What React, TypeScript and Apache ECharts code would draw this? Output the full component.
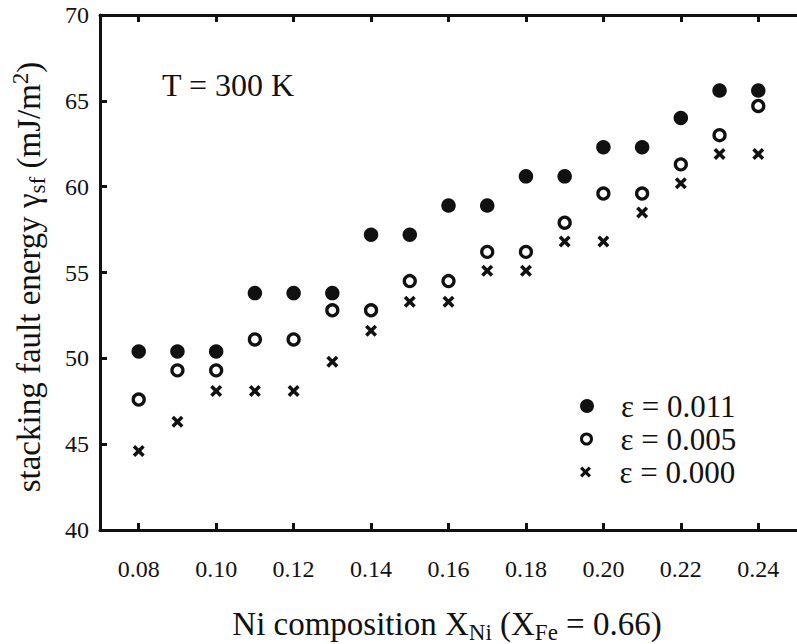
import React, { useEffect, useRef } from "react";
import * as echarts from "echarts";

const xValues = [0.08, 0.09, 0.1, 0.11, 0.12, 0.13, 0.14, 0.15, 0.16, 0.17, 0.18, 0.19, 0.2, 0.21, 0.22, 0.23, 0.24];
const eps011 = [50.4, 50.4, 50.4, 53.8, 53.8, 53.8, 57.2, 57.2, 58.9, 58.9, 60.6, 60.6, 62.3, 62.3, 64.0, 65.6, 65.6];
const eps005 = [47.6, 49.3, 49.3, 51.1, 51.1, 52.8, 52.8, 54.5, 54.5, 56.2, 56.2, 57.9, 59.6, 59.6, 61.3, 63.0, 64.7];
const eps000 = [44.6, 46.3, 48.1, 48.1, 48.1, 49.8, 51.6, 53.3, 53.3, 55.1, 55.1, 56.8, 56.8, 58.5, 60.2, 61.9, 61.9];
const seriesNames = ["ε = 0.011", "ε = 0.005", "ε = 0.000"];
const xTickValues = [0.08, 0.1, 0.12, 0.14, 0.16, 0.18, 0.2, 0.22, 0.24];

const FONT = "Liberation Serif";
const INK = "#111111";
const CROSS = "path://M0,2.5 L2.5,0 L6,3.5 L9.5,0 L12,2.5 L8.5,6 L12,9.5 L9.5,12 L6,8.5 L2.5,12 L0,9.5 L3.5,6 Z";

const pairs = (ys: number[]) => xValues.map((x, i) => [x, ys[i]]);

export default function App() {
  const ref = useRef<HTMLDivElement>(null);
  useEffect(() => {
    if (!ref.current) return;
    const chart = echarts.init(ref.current, null, { renderer: "svg" });
    const axisLine = { show: true, lineStyle: { color: INK, width: 3 } };
    const tick = { show: true, inside: true, length: 7, lineStyle: { color: INK, width: 3 } };
    const legendBase = {
      left: 580,
      padding: 0,
      itemWidth: 58,
      selectedMode: false,
      textStyle: { fontSize: 31, fontFamily: FONT, color: INK, lineHeight: 32 },
    };
    chart.setOption({
      animation: false,
      backgroundColor: "#ffffff",
      textStyle: { fontFamily: FONT },
      grid: { left: 100, top: 15, right: -12, bottom: 114 },
      xAxis: [
        {
          type: "value",
          min: 0.07,
          max: 0.25,
          position: "bottom",
          splitLine: { show: false },
          axisLine,
          axisTick: { ...tick, customValues: xTickValues },
          axisLabel: {
            customValues: xTickValues,
            formatter: (v: number) => v.toFixed(2),
            fontSize: 24,
            fontFamily: FONT,
            color: INK,
            margin: 27,
          },
        },
        {
          type: "value",
          min: 0.07,
          max: 0.25,
          position: "top",
          splitLine: { show: false },
          axisLine,
          axisTick: { ...tick, customValues: xTickValues },
          axisLabel: { show: false },
        },
      ],
      yAxis: {
        type: "value",
        min: 40,
        max: 70,
        interval: 5,
        splitLine: { show: false },
        axisLine,
        axisTick: tick,
        axisLabel: { fontSize: 24, fontFamily: FONT, color: INK, margin: 11 },
      },
      legend: [
        { ...legendBase, top: 390, itemHeight: 14, data: [{ name: seriesNames[0], icon: "circle" }] },
        {
          ...legendBase,
          top: 423,
          itemHeight: 10,
          data: [{ name: seriesNames[1], icon: "circle", itemStyle: { color: "#ffffff", borderColor: INK, borderWidth: 3 } }],
        },
        { ...legendBase, top: 456, itemHeight: 11, data: [{ name: seriesNames[2], icon: CROSS }] },
      ],
      series: [
        {
          name: seriesNames[0],
          type: "scatter",
          symbol: "circle",
          symbolSize: 14.5,
          itemStyle: { color: INK, opacity: 1 },
          data: pairs(eps011),
        },
        {
          name: seriesNames[1],
          type: "scatter",
          symbol: "circle",
          symbolSize: 11,
          itemStyle: { color: "#ffffff", borderColor: INK, borderWidth: 3.3, opacity: 1 },
          data: pairs(eps005),
        },
        {
          name: seriesNames[2],
          type: "scatter",
          symbol: CROSS,
          symbolSize: 12,
          itemStyle: { color: INK, opacity: 1 },
          data: pairs(eps000),
        },
      ],
      graphic: [
        {
          type: "text",
          x: 162,
          y: 85,
          style: { text: "T = 300 K", fontSize: 32, fontFamily: FONT, fill: INK, align: "left", verticalAlign: "middle" },
        },
        {
          type: "text",
          x: 447,
          y: 624,
          style: {
            text: "Ni composition X{sub|Ni} (X{sub|Fe} = 0.66)",
            fontSize: 33,
            fontFamily: FONT,
            fill: INK,
            align: "center",
            verticalAlign: "middle",
            lineHeight: 40,
            rich: {
              sub: { fontSize: 23, fontFamily: FONT, fill: INK, lineHeight: 24, verticalAlign: "bottom" },
            },
          },
        },
        {
          type: "text",
          x: 29,
          y: 277,
          rotation: Math.PI / 2,
          style: {
            text: "stacking fault energy γ{sub|sf} (mJ/m{sup|2})",
            fontSize: 33,
            fontFamily: FONT,
            fill: INK,
            align: "center",
            verticalAlign: "middle",
            lineHeight: 40,
            rich: {
              sub: { fontSize: 23, fontFamily: FONT, fill: INK, lineHeight: 24, verticalAlign: "bottom" },
              sup: { fontSize: 23, fontFamily: FONT, fill: INK, lineHeight: 24, verticalAlign: "top" },
            },
          },
        },
      ],
    });
    return () => chart.dispose();
  }, []);
  return <div ref={ref} style={{ position: "fixed", left: 0, top: 0, width: 797, height: 644, background: "#fff" }} />;
}
